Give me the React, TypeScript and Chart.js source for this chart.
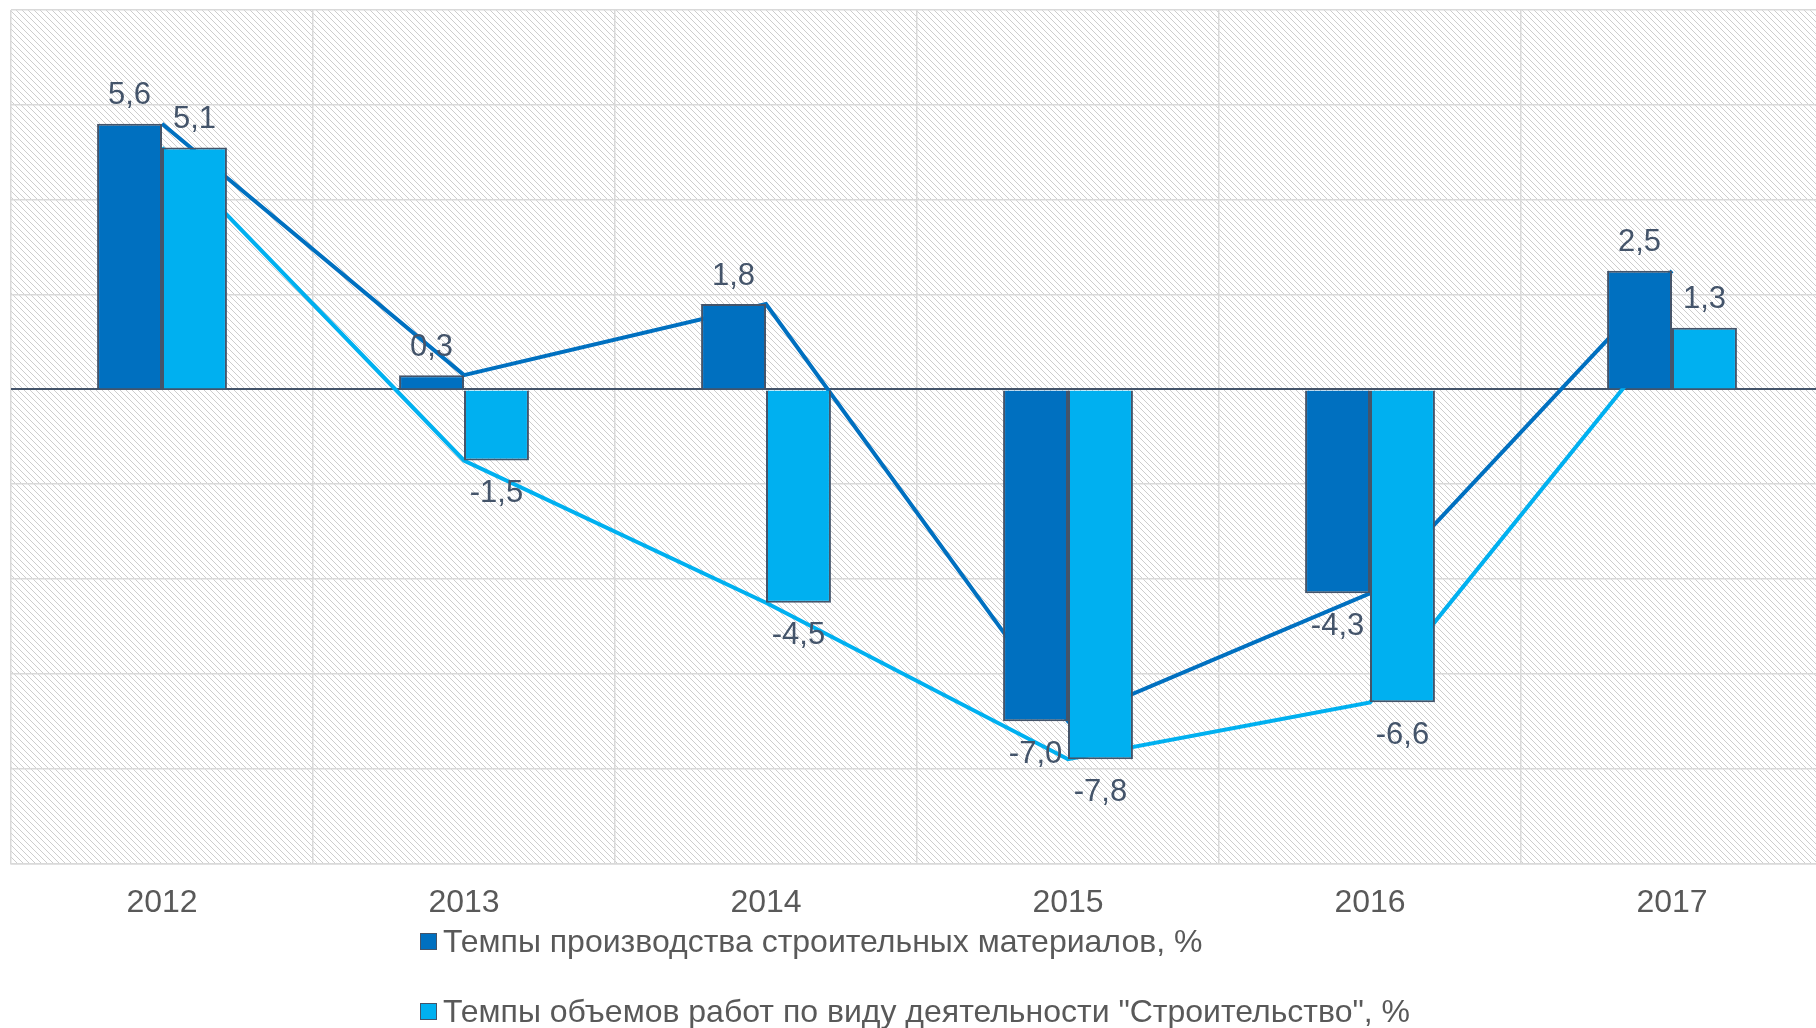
import React, { useEffect, useRef } from "react";
import { Chart, registerables } from "chart.js";

Chart.register(...registerables);

const categories = ["2012", "2013", "2014", "2015", "2016", "2017"];
const materials = [5.6, 0.3, 1.8, -7.0, -4.3, 2.5];
const construction = [5.1, -1.5, -4.5, -7.8, -6.6, 1.3];
const seriesNames = [
  "Темпы производства строительных материалов, %",
  "Темпы объемов работ по виду деятельности \"Строительство\", %",
];
const yMin = -10;
const yMax = 8;
const yStep = 2;

const DARK = "#0070C0";
const LIGHT = "#00B0F0";
const SLATE = "#44546A";
const GRID = "#D9D9D9";
const FONT = "'Liberation Sans', Arial, sans-serif";

function makePattern(ctx: CanvasRenderingContext2D): CanvasPattern | string {
  const n = 6;
  const c = document.createElement("canvas");
  c.width = n;
  c.height = n;
  const g = c.getContext("2d");
  if (!g) return "#fff";
  g.fillStyle = "#ffffff";
  g.fillRect(0, 0, n, n);
  g.fillStyle = "#cdcdcd";
  for (let i = 0; i < n; i++) {
    g.fillRect(i, i, 1, 1);
  }
  const p = ctx.createPattern(c, "repeat");
  return p || "#fff";
}

const hatchPlugin = {
  id: "hatch",
  beforeDraw(chart: any) {
    const { ctx, chartArea } = chart;
    ctx.save();
    ctx.fillStyle = makePattern(ctx);
    ctx.fillRect(chartArea.left, chartArea.top, chartArea.right - chartArea.left, chartArea.bottom - chartArea.top);
    ctx.restore();
  },
};

const labelPlugin = {
  id: "barLabels",
  afterDatasetsDraw(chart: any) {
    const { ctx } = chart;
    ctx.save();
    ctx.font = `31px ${FONT}`;
    ctx.fillStyle = SLATE;
    ctx.textAlign = "center";
    ctx.textBaseline = "middle";
    chart.data.datasets.forEach((ds: any, i: number) => {
      if (ds.type !== "bar") return;
      const meta = chart.getDatasetMeta(i);
      meta.data.forEach((el: any, j: number) => {
        const v = ds.data[j] as number;
        const y = v >= 0 ? el.y - 28 : el.y + 33;
        ctx.fillText(v.toFixed(1).replace(".", ","), el.x, y);
      });
    });
    ctx.restore();
  },
};

const legendPlugin = {
  id: "customLegend",
  afterDraw(chart: any) {
    const { ctx } = chart;
    ctx.save();
    ctx.font = `32px ${FONT}`;
    ctx.textBaseline = "middle";
    const colors = [DARK, LIGHT];
    const ys = [942, 1012];
    seriesNames.forEach((name, i) => {
      ctx.fillStyle = colors[i];
      ctx.fillRect(420, ys[i] - 9, 17, 17);
      ctx.strokeStyle = SLATE;
      ctx.lineWidth = 1;
      ctx.strokeRect(420.5, ys[i] - 8.5, 16, 16);
      ctx.fillStyle = "#595959";
      ctx.textAlign = "left";
      ctx.fillText(name, 443, ys[i] + 1);
    });
    ctx.restore();
  },
};

export default function App() {
  const ref = useRef<HTMLCanvasElement | null>(null);
  useEffect(() => {
    if (!ref.current) return;
    const chart = new Chart(ref.current, {
      data: {
        labels: categories,
        datasets: [
          {
            type: "bar",
            label: seriesNames[0],
            data: materials,
            backgroundColor: DARK,
            borderColor: SLATE,
            borderWidth: 2,
            order: 0,
          },
          {
            type: "bar",
            label: seriesNames[1],
            data: construction,
            backgroundColor: LIGHT,
            borderColor: SLATE,
            borderWidth: 2,
            order: 0,
          },
          {
            type: "line",
            label: seriesNames[0] + " (line)",
            data: materials,
            borderColor: DARK,
            borderWidth: 4,
            pointRadius: 0,
            tension: 0,
            fill: false,
            order: 1,
          },
          {
            type: "line",
            label: seriesNames[1] + " (line)",
            data: construction,
            borderColor: LIGHT,
            borderWidth: 4,
            pointRadius: 0,
            tension: 0,
            fill: false,
            order: 1,
          },
        ],
      } as any,
      options: {
        animation: false,
        responsive: false,
        maintainAspectRatio: false,
        layout: { padding: { left: 11, top: 10, right: 7, bottom: 86 } },
        datasets: { bar: { categoryPercentage: 0.43, barPercentage: 1 } } as any,
        plugins: {
          legend: { display: false },
          tooltip: { enabled: false },
        },
        scales: {
          x: {
            offset: true,
            grid: { offset: true, color: GRID, lineWidth: 1.5, drawTicks: false },
            border: { color: GRID, width: 1.5 },
            ticks: { color: "#595959", font: { size: 32, family: FONT }, padding: 20 },
          },
          y: {
            min: yMin,
            max: yMax,
            ticks: { display: false, stepSize: yStep },
            grid: {
              drawTicks: false,
              color: (c: any) => (c.tick && c.tick.value === 0 ? SLATE : GRID),
              lineWidth: (c: any) => (c.tick && c.tick.value === 0 ? 2 : 1.5),
            },
            border: { display: false },
          },
        },
      } as any,
      plugins: [hatchPlugin, labelPlugin, legendPlugin],
    });
    return () => chart.destroy();
  }, []);
  return (
    <div style={{ position: "fixed", left: 0, top: 0, width: 1816, height: 1028, overflow: "hidden", background: "#fff" }}>
      <canvas ref={ref} width={1830} height={1028} style={{ display: "block", width: 1830, height: 1028 }} />
    </div>
  );
}
